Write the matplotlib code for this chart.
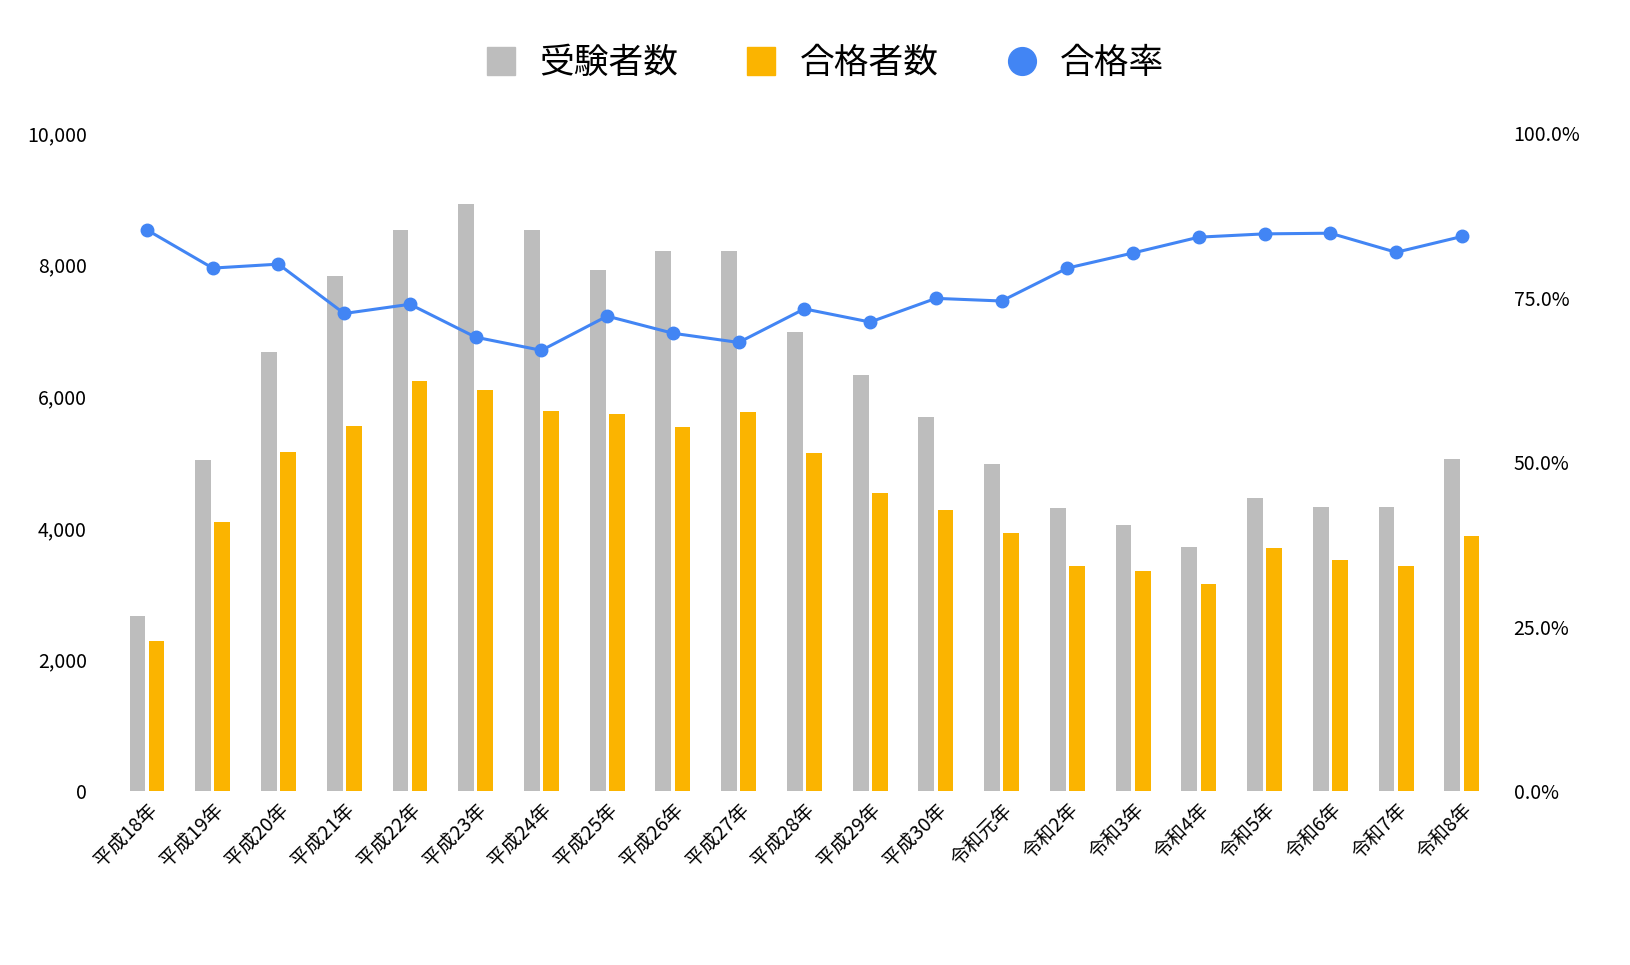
import matplotlib.pyplot as plt
import numpy as np
from matplotlib.lines import Line2D
from matplotlib.ticker import FuncFormatter

plt.rcParams["font.family"] = ["Noto Sans CJK JP", "DejaVu Sans"]

years = ["平成18年", "平成19年", "平成20年", "平成21年", "平成22年", "平成23年", "平成24年",
         "平成25年", "平成26年", "平成27年", "平成28年", "平成29年", "平成30年", "令和元年",
         "令和2年", "令和3年", "令和4年", "令和5年", "令和6年", "令和7年", "令和8年"]
examinees = [2660, 5030, 6670, 7830, 8530, 8920, 8530, 7920, 8210, 8210, 6980,
             6320, 5680, 4980, 4300, 4040, 3710, 4450, 4320, 4320, 5050]
passers = [2290, 4090, 5150, 5550, 6230, 6090, 5780, 5730, 5530, 5760, 5140,
           4530, 4270, 3920, 3420, 3340, 3150, 3690, 3510, 3430, 3880]
pass_rate = [85.3, 79.5, 80.1, 72.6, 74.0, 69.0, 67.0, 72.2, 69.6, 68.2, 73.3,
             71.3, 74.9, 74.5, 79.5, 81.8, 84.2, 84.7, 84.8, 81.9, 84.3]

GRAY = "#BDBDBD"
ORANGE = "#FBB400"
BLUE = "#4285F4"

fig, ax = plt.subplots(figsize=(16.3, 9.65), dpi=100)
fig.subplots_adjust(left=0.072, right=0.915, top=0.862, bottom=0.18)

x = np.arange(len(years))
w = 0.24
ax.bar(x - 0.145, examinees, width=w, color=GRAY)
ax.bar(x + 0.145, passers, width=w, color=ORANGE)
ax.set_ylim(0, 10000)
ax.set_xlim(-0.45, len(years) - 0.55)
ax.set_yticks(range(0, 10001, 2000))
ax.yaxis.set_major_formatter(FuncFormatter(lambda v, p: f"{int(v):,}"))
ax.set_xticks(x)
ax.set_xticklabels(years, rotation=45, ha="right", rotation_mode="anchor", fontsize=14)
ax.tick_params(axis="y", labelsize=14, length=0, pad=22)
ax.tick_params(axis="x", length=0, pad=6)
for s in ax.spines.values():
    s.set_visible(False)

ax2 = ax.twinx()
ax2.plot(x, pass_rate, color=BLUE, marker="o", markersize=9, linewidth=2.2)
ax2.set_ylim(0, 100)
ax2.set_yticks([0, 25, 50, 75, 100])
ax2.yaxis.set_major_formatter(FuncFormatter(lambda v, p: f"{v:.1f}%"))
ax2.tick_params(axis="y", labelsize=14, length=0, pad=16)
for s in ax2.spines.values():
    s.set_visible(False)

handles = [
    Line2D([], [], marker="s", linestyle="", color=GRAY, markersize=20),
    Line2D([], [], marker="s", linestyle="", color=ORANGE, markersize=20),
    Line2D([], [], marker="o", linestyle="", color=BLUE, markersize=20),
]
fig.legend(handles, ["受験者数", "合格者数", "合格率"], loc="upper center",
           bbox_to_anchor=(0.5, 0.985), ncol=3, frameon=False, fontsize=25,
           handletextpad=0.1, columnspacing=1.4)

fig.savefig("out.png")
